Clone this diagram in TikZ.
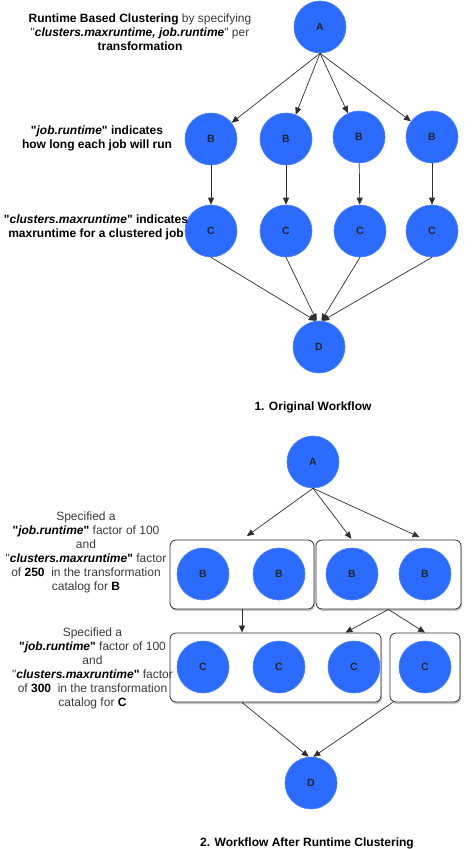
\documentclass[tikz,border=0pt]{standalone}
\usepackage{fontspec}
\setmainfont{Liberation Sans}[Ligatures=TeXOff]
\usetikzlibrary{arrows.meta,shadows,calc}
\definecolor{jobblue}{HTML}{2B6BFF}
\definecolor{jobedge}{HTML}{4A80FF}
\definecolor{linegray}{HTML}{2E2E2E}
\definecolor{textgray}{HTML}{3A3A3A}

\begin{document}
\begin{tikzpicture}[x=1pt,y=-1pt,
  job/.style={circle, fill=jobblue, draw=jobedge, line width=0.6pt,
    minimum size=52pt, inner sep=0pt, text=black!85,
    font=\bfseries\fontsize{10.5}{13}\selectfont},
  cluster/.style={draw=linegray, line width=0.8pt, fill=white,
    rounded corners=6pt, inner sep=0pt, minimum height=69pt,
    drop shadow={shadow xshift=1pt, shadow yshift=-2pt, opacity=0.45}},
  edge/.style={draw=linegray, line width=0.7pt,
    -{Triangle[length=7pt,width=6pt]}},
  note/.style={align=center, font=\fontsize{12}{14}\selectfont},
  title/.style={font=\bfseries\fontsize{12}{14}\selectfont}]

\useasboundingbox (0,0) rectangle (472,849);

% ---------- 1. original workflow ----------
\node[job] (A)  at (320,27)  {A};
\node[job] (B1) at (211,139) {B};
\node[job] (B2) at (286,139) {B};
\node[job] (B3) at (359,137) {B};
\node[job] (B4) at (432,137) {B};
\node[job] (C1) at (211,231) {C};
\node[job] (C2) at (286,231) {C};
\node[job] (C3) at (360,231) {C};
\node[job] (C4) at (432,231) {C};
\node[job] (D)  at (319,347) {D};

\foreach \b in {B1,B2,B3,B4} \draw[edge] (A.south) -- (\b);
\draw[edge] (B1) -- (C1);
\draw[edge] (B2) -- (C2);
\draw[edge] (B3) -- (C3);
\draw[edge] (B4) -- (C4);
\draw[edge] (C1.south) -- (D.97);
\draw[edge] (C2.south) -- (D.95);
\draw[edge] (C3.south) -- (D.85);
\draw[edge] (C4.south) -- (D.83);

\node[note] (n1) at (140,32) {%
  \textbf{Runtime Based Clustering} {\color{textgray}by specifying}\\
  {\color{textgray}"}\textbf{\textit{clusters.maxruntime, job.runtime}}{\color{textgray}" per}\\
  \textbf{transformation}};
\node[note, font=\bfseries\fontsize{12}{14}\selectfont] (n2) at (97,138.5)
  {"\textit{job.runtime}" indicates\\how long each job will run};
\node[note, font=\bfseries\fontsize{12}{14}\selectfont] (n3) at (96,227)
  {"\textit{clusters.maxruntime}" indicates\\maxruntime for a clustered job};

\node[title] (t1) at (313,407) {1. Original Workflow};

% ---------- 2. after runtime clustering ----------
\node[job] (A2) at (313,462) {A};

\node[cluster, minimum width=144pt] (box1) at (242,574.5) {};
\node[cluster, minimum width=145pt] (box2) at (388.5,574.5) {};
\node[cluster, minimum width=211pt] (box3) at (275.5,667.5) {};
\node[cluster, minimum width=70pt]  (box4) at (425,667.5) {};

\node[job] (b1) at (203,574) {B};
\node[job] (b2) at (279,574) {B};
\node[job] (b3) at (352,574) {B};
\node[job] (b4) at (425,574) {B};
\node[job] (c1) at (203,667) {C};
\node[job] (c2) at (279,667) {C};
\node[job] (c3) at (354,667) {C};
\node[job] (c4) at (425,667) {C};
\node[job] (D2) at (311,783) {D};

\draw[edge, shorten >=6pt] (A2.south) -- (box1.north);
\draw[edge, shorten >=1pt] (A2.south) -- (b3 |- box2.north);
\draw[edge, shorten >=6pt] (A2.south) -- (b4 |- box2.north);
\draw[edge] (box1.south) -- (box1.south |- box3.north);
\draw[edge] (box2.south) -- ($(box3.north east)+(-36,0)$);
\draw[edge] (box2.south) -- (box4.north);
\draw[edge] (box1.south |- box3.south) -- (D2.95);
\draw[edge] ($(box4.south west)+(3,0)$) -- (D2.85);

\node[note, text=textgray] (n4) at (86,552.5) {%
  Specified a\\
  \textcolor{black}{\textbf{"\textit{job.runtime}"}} factor of 100\\
  and\\
  "\textcolor{black}{\textbf{\textit{clusters.maxruntime}"}} factor\\
  of \textcolor{black}{\textbf{250}}\ \ in the transformation\\
  catalog for \textcolor{black}{\textbf{B}}};
\node[note, text=textgray] (n5) at (92.5,668) {%
  Specified a\\
  \textcolor{black}{\textbf{"\textit{job.runtime}"}} factor of 100\\
  and\\
  "\textcolor{black}{\textbf{\textit{clusters.maxruntime}"}} factor\\
  of \textcolor{black}{\textbf{300}}\ \ in the transformation\\
  catalog for \textcolor{black}{\textbf{C}}};

\node[title] (t2) at (307,843) {2. Workflow After Runtime Clustering};
\end{tikzpicture}
\end{document}
